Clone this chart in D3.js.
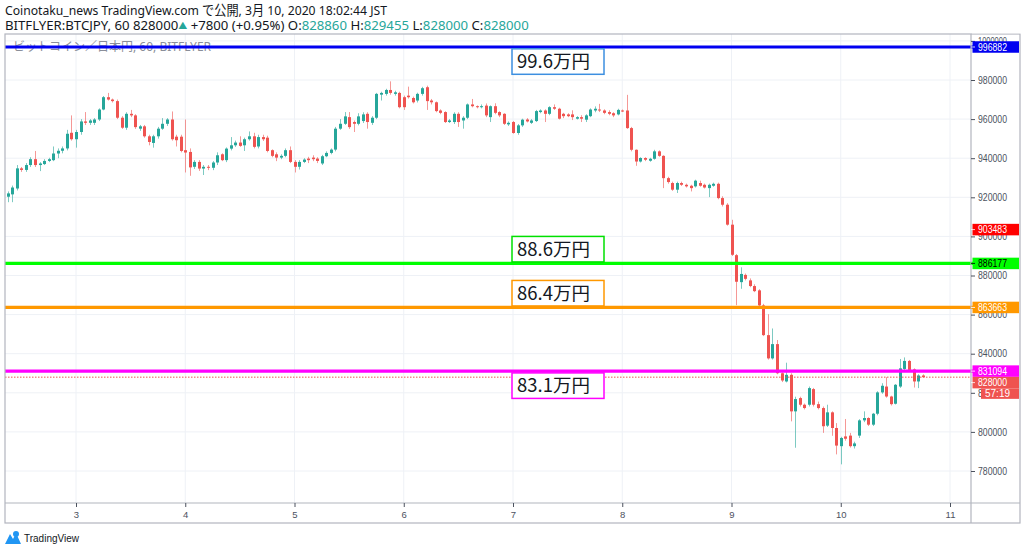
<!DOCTYPE html>
<html><head><meta charset="utf-8">
<script src="https://cdn.jsdelivr.net/npm/d3@7"></script>
<style>body{margin:0;background:#fff;} svg{display:block;}</style>
</head><body>
<script>
// ---------------- DATA (prices in thousands of JPY, hourly candles) ----------------
const firstCandleUTC = Date.UTC(2020, 2, 2, 9); // 2 Mar 09:00 (chart clock)
const opens = [920.3,921.5,924.5,934.8,934,936.5,939.5,936.5,937,938.6,939.0,942.4,943.8,945,953,949.7,953.4,958.8,958.1,958.1,959.8,964.9,971.2,970,969.2,960.7,955.6,962.7,961.9,955.1,956.3,951.2,947.8,951.2,955.1,957.6,959.8,951,951,944.1,943.2,935.6,938.1,934.7,935.6,935.1,937.8,942,939,944.9,946.6,948.0,946.6,949.7,951.2,946,950.8,950.5,944.1,942,940.3,941.2,944.1,938.1,935.6,938.1,939.8,940.3,939.8,937.3,941.0,942.7,944.4,955.1,
957.6,961.0,958.5,957.6,959.0,962.7,958.1,960.7,972.5,972.9,974.9,972.9,973.4,971.2,972.0,970.8,969.5,972.9,976.3,969.5,968.6,964.4,963.6,958.5,958.5,962.7,959.3,960.7,967.5,966.6,966.1,966.9,961.0,966.6,963.6,962.7,957.3,958.5,952.9,956.8,959.8,958.1,959.0,963.6,964.4,962.7,966.1,965.3,962.7,962.4,962.4,960.2,961.0,959.7,961.5,964.4,964.9,964.4,963.6,963.0,962.4,964.4,
964.4,955.4,944.3,938.3,940.1,938.7,939.7,943.5,941.2,929.8,927.3,923.9,927.3,926.4,925.9,925.6,927.3,926.4,924.7,925.9,926.9,919.6,916.2,906.0,890.4,876.6,880.3,877.5,874.6,872.4,864.7,849.5,837.6,844.9,830.0,825.8,829.2,810.5,817.3,813.9,813.9,821.9,814.2,812.2,803.2,810.0,802.0,792.7,797.7,798.1,792.7,798.1,805.9,807.1,803.7,809.3,820.2,823.2,818.1,814.4,823.2,832.2,836.3,832.0,825.8,828.86];
const highs = [923,926,936.5,935.5,937.5,940.5,943.7,938,939.5,940.2,946,945,946,954.5,961.9,954.5,960,963.6,960,960.5,965.5,971.8,973.4,970.5,970,961.5,963.5,964.7,962.5,957,957,952,952,956,960.5,960.5,963.9,952,952,959.8,945,939,939,936.5,936.5,938.5,943,942.5,945.5,950.8,949,951.2,950.5,953.7,953,952,952,951.5,944.5,943,942,945,946,939,939,940,940.7,941.5,940.5,941.7,943.5,945,956,960,
963.6,963.6,959.3,963,963.5,963.5,961.5,973.4,974,975.5,979.3,974.5,974,972,976.6,971.5,973.5,976.5,977.1,970.3,969,965,964,960,963.5,963.5,961.5,968,970.3,967,967.5,968,967,968.1,964,963,958.8,959,957.5,960.2,960.5,960,964.7,965,965,966.6,967.5,965.8,963.2,963,964.5,961.5,962,962.5,965.5,966.5,967.8,965,964.5,963.5,965.3,964.9,
972.4,956,944.5,940.5,940.5,940.2,944.3,944,941.5,930.5,928,928,928,927,926.4,929,928.5,927,927,927.5,927.5,920.5,917,908.5,891,884.2,881,878.5,875.5,873,865.5,860.2,852.9,847,830.5,835.4,830,818,818,814.5,823.2,822.5,815.5,813,813.9,810.5,804.5,797.5,806.6,799.5,795,806.5,810.5,807.5,809.7,820.8,824.9,828,818.5,824.5,837.3,838.1,836.8,832.5,829.5,829.455];
const lows = [917.5,917.5,923.5,933,933,935.5,935.5,933.4,936.5,938,938.5,940,942.5,944,949,945.4,952,957,957,957,959,964.5,969.5,968.5,960,955,954.5,961,955,954,950.5,946.6,945.4,950,954.5,956.5,949,946,943,932.7,931,934.5,933.5,931.4,933.9,933.9,936.5,938.5,938,944,945.8,945.8,943.7,949,945,945,948.8,943,940.5,938.5,939.5,940.5,937.5,932.7,934.2,937.5,937.5,938.5,937.5,936.5,940.5,942,943.5,954.5,
957.0,955.0,953.4,956.8,958,955.1,957,960,969.5,972,972.5,972,965.5,964.7,970.5,968,968.5,972,964.7,967.5,963.5,962.5,958,958,957.5,956,955.1,960,966,965.5,965.5,961,958.5,962.5,961,957,956.5,952.5,952,956,958.3,957.5,958.5,963,958.5,962,964.7,959.8,960.5,961,959.5,959.8,958.5,958.5,961,963.5,963.6,962.5,962,961,961.9,963.6,
955,943.5,936.1,937.8,938.5,938.2,939.2,940.7,924.7,927,923.3,922.2,925.8,925,923,925,925.4,924.5,920.1,925.4,919,915.3,905.5,890,864.8,873.2,877.5,874,871.5,864,849,837,837,829.5,825.5,825.3,805.4,791.9,813,811.5,813,813,811.5,799.5,802.5,798,788.5,783.4,795.5,792,791.5,796.9,805,803,803,808.5,819.5,817.5,813.5,814,822.5,831.5,831,822.7,822.4,828.0];
const closes = [922.0,925,934.8,934,936.5,939.5,936.5,937.3,938.6,939.5,942.4,943.8,945,952.5,949.7,953.4,958.8,958.1,959.3,959.8,964.9,971.2,970.0,969.2,960.7,955.6,962.7,961.9,955.9,956.3,951.2,948.3,951.2,955.1,957.6,959.8,949.7,949.2,943.7,942.9,935.3,938.1,934.7,935.6,935.1,937.8,941.5,939,944.9,946.6,948.0,946.3,949.7,951.2,945.8,950.8,949.7,943.7,941.2,940.3,941.2,944.1,938.1,935.6,938.1,939.3,939.0,939.5,938.6,941.0,942.7,944.4,955.1,957.6,
961.4,955.9,957.6,961.4,962.4,958.5,960.7,972.9,973.4,974.9,973.4,973.7,966.1,966.1,971.2,968.6,972.9,975.8,969.2,968.6,964.1,963.2,958.5,959.3,962.7,958.5,960.7,967.5,966.6,966.1,966.6,961.9,966.6,963.2,961.9,957.6,958.1,952.9,956.8,959.7,958.8,959.3,964.1,964.4,962.7,966.1,965.3,960.2,961.5,961.5,961.0,961.0,960.2,961.9,964.9,965.3,964.4,963.2,962.7,961.9,964.7,964.1,
955.4,944.3,938.3,940.1,939.2,939.7,943.5,941.2,929.8,927.8,923.9,927.3,926.4,925.6,924.7,928.5,925.9,925.0,926.4,926.9,919.6,916.2,906.0,890.6,876.8,880.8,878.3,874.6,872.0,864.7,849.5,837.6,844.9,830.0,826.3,829.2,810.5,816.8,813.9,812.2,822.4,813.9,812.2,802.9,810.0,802.0,793.0,796.9,796.5,792.7,794.1,805.9,807.1,803.7,809.3,820.2,823.6,818.1,814.2,824.1,832.5,836.3,831.7,825.8,828.86,828.0];

const priceTicks = [780000, 800000, 820000, 840000, 860000, 880000, 900000, 920000, 940000, 960000, 980000, 1000000];
const dayTicks = [3, 4, 5, 6, 7, 8, 9, 10, 11];
const levelPrices = [996882, 886177, 863663, 831094];
const levelLabels = ["99.6万円", "88.6万円", "86.4万円", "83.1万円"];
const markerPrices = [996882, 903483, 886177, 863663, 831094, 828000];
const lastPrice = 828000;
const countdown = "57:19";
const headerLine1 = "Coinotaku_news TradingView.com で公開, 3月 10, 2020 18:02:44 JST";
const symbolText = "BITFLYER:BTCJPY, 60 828000";
const changeText = " +7800 (+0.95%) ";
const ohlcNames = ["O:", "H:", "L:", "C:"];
const ohlcValues = ["828860", "829455", "828000", "828000"];
const paneTitle = "ビットコイン／日本円, 60, BITFLYER";

// ---------------- STYLE ----------------
const UP = "#26a69a", DOWN = "#ef5350";
const levelStyle = [
  {line: "#0000f0", box: "#3d8fe0", above: false},
  {line: "#00ff00", box: "#00e000", above: true},
  {line: "#ff9800", box: "#ff9800", above: true},
  {line: "#ff00ff", box: "#ff00ff", above: false}
];
const markerStyle = [
  {fill: "#0000f0", text: "#fff"}, {fill: "#ff0000", text: "#fff"}, {fill: "#00ff00", text: "#000"},
  {fill: "#ff9800", text: "#fff"}, {fill: "#ff00ff", text: "#fff"}, {fill: "#ef5350", text: "#fff"}
];

const W = 1024, H = 552;
const L = 5, R = 971, T = 34, B = 503, AXR = 1020, AXB = 523;

const svg = d3.select("body").append("svg").attr("width", W).attr("height", H)
  .style("font-family", "'Noto Sans','Noto Sans CJK JP',sans-serif");
svg.append("rect").attr("width", W).attr("height", H).attr("fill", "#fff");

const x = d3.scaleUtc().domain([new Date(Date.UTC(2020,2,3)), new Date(Date.UTC(2020,2,11))]).range([76, 950]);
const y = d3.scaleLinear().domain([780000, 980000]).range([471, 80]);

const candles = closes.map((c, i) => ({
  t: new Date(firstCandleUTC + i * 3600e3),
  o: opens[i] * 1000, h: highs[i] * 1000, l: lows[i] * 1000, c: c * 1000
}));

// header
const hdr = svg.append("g").attr("font-size", 13.2).attr("fill", "#131722");
hdr.append("text").attr("x", 5).attr("y", 15).attr("textLength", 382).attr("lengthAdjust", "spacingAndGlyphs").text(headerLine1);
const l2 = hdr.append("text").attr("x", 5).attr("y", 29.5);
l2.append("tspan").text(symbolText);
l2.append("tspan").attr("fill", UP).attr("font-size", 9).attr("dy", -1).text("▲");
l2.append("tspan").attr("dy", 1).text(changeText);
ohlcNames.forEach((n, i) => {
  l2.append("tspan").text((i ? " " : "") + n);
  l2.append("tspan").attr("fill", UP).text(ohlcValues[i]);
});

// clip
svg.append("clipPath").attr("id", "plot").append("rect").attr("x", L).attr("y", T).attr("width", R - L).attr("height", B - T);
const plot = svg.append("g").attr("clip-path", "url(#plot)");

// grid
plot.append("g").selectAll("line").data(priceTicks).join("line")
  .attr("x1", L).attr("x2", R).attr("y1", d => y(d)).attr("y2", d => y(d))
  .attr("stroke", "#eef1f6").attr("stroke-width", 1);
plot.append("g").selectAll("line").data(dayTicks).join("line")
  .attr("x1", d => x(new Date(Date.UTC(2020,2,d)))).attr("x2", d => x(new Date(Date.UTC(2020,2,d))))
  .attr("y1", T).attr("y2", B).attr("stroke", "#eef1f6").attr("stroke-width", 1);

// pane title
plot.append("text").attr("x", 13).attr("y", 51).attr("font-size", 12).attr("fill", "#8a8e99").text(paneTitle);

// candles
const cg = plot.append("g");
cg.selectAll("line").data(candles).join("line")
  .attr("x1", d => Math.round(x(d.t)) + 0.5).attr("x2", d => Math.round(x(d.t)) + 0.5)
  .attr("y1", d => y(d.h)).attr("y2", d => y(d.l))
  .attr("stroke", d => d.c >= d.o ? UP : DOWN).attr("stroke-opacity", 0.6).attr("stroke-width", 1);
cg.selectAll("rect").data(candles).join("rect")
  .attr("x", d => Math.round(x(d.t)) - 1).attr("width", 3)
  .attr("y", d => y(Math.max(d.o, d.c)))
  .attr("height", d => Math.max(1, Math.abs(y(d.o) - y(d.c))))
  .attr("fill", d => d.c >= d.o ? UP : DOWN);

// last price dotted line
plot.append("line").attr("x1", L).attr("x2", R).attr("y1", y(lastPrice)).attr("y2", y(lastPrice))
  .attr("stroke", DOWN).attr("stroke-width", 1).attr("stroke-dasharray", "1.5,1.5");

// level lines + boxes
const boxDate = new Date(Date.UTC(2020,2,7));
levelPrices.forEach((p, i) => {
  const s = levelStyle[i];
  const yy = y(p);
  svg.append("line").attr("x1", L).attr("x2", R + 2).attr("y1", yy).attr("y2", yy)
    .attr("stroke", s.line).attr("stroke-width", 3.2);
  const bx = x(boxDate) - 1, bw = 92, bh = 25.5;
  const by = s.above ? yy - 1.5 - bh : yy + 1.8;
  svg.append("rect").attr("x", bx).attr("y", by).attr("width", bw).attr("height", bh)
    .attr("fill", "#fff").attr("stroke", s.box).attr("stroke-width", 1.5);
  svg.append("text").attr("x", bx + 5).attr("y", by + 19.5).attr("font-size", 18.5)
    .attr("font-family", "'Noto Sans CJK JP',sans-serif").attr("fill", "#131722").text(levelLabels[i]);
});

// frame
svg.append("rect").attr("x", L).attr("y", T).attr("width", AXR - L).attr("height", AXB - T)
  .attr("fill", "none").attr("stroke", "#b2b5be").attr("stroke-width", 1.2);
svg.append("line").attr("x1", R).attr("x2", R).attr("y1", T).attr("y2", AXB).attr("stroke", "#b2b5be").attr("stroke-width", 1.2);
svg.append("line").attr("x1", L).attr("x2", AXR).attr("y1", B).attr("y2", B).attr("stroke", "#b2b5be").attr("stroke-width", 1.2);

// price axis
const yAxis = d3.axisRight(y).tickValues(priceTicks).tickSize(4).tickPadding(3).tickFormat(d3.format("d"));
const ya = svg.append("g").attr("transform", `translate(${R},0)`).call(yAxis);
ya.select(".domain").remove();
ya.selectAll(".tick line").attr("stroke", "#4c525e");
ya.selectAll(".tick text").attr("fill", "#4c525e").attr("font-size", 10)
  .attr("font-family", "'Liberation Sans',sans-serif").attr("textLength", 29).attr("lengthAdjust", "spacingAndGlyphs");
// hide parts beyond frame top
svg.append("rect").attr("x", R + 1).attr("y", 0).attr("width", 60).attr("height", T - 0.6).attr("fill", "#fff");

// time axis
const xAxis = d3.axisBottom(x).tickValues(dayTicks.map(d => new Date(Date.UTC(2020,2,d)))).tickSize(4).tickPadding(4)
  .tickFormat(d3.utcFormat("%-d"));
const xa = svg.append("g").attr("transform", `translate(0,${B})`).call(xAxis);
xa.select(".domain").remove();
xa.selectAll(".tick line").attr("stroke", "#4c525e");
xa.selectAll(".tick text").attr("fill", "#4c525e").attr("font-size", 9.5).attr("font-family", "'Liberation Sans',sans-serif");

// price markers on axis (stacked downward when they would overlap, like the reference)
const MH = 11.5;
let prevBottom = -Infinity;
let lastMarkerBottom = 0;
markerPrices.map((p, i) => ({p, i})).sort((a, b) => y(a.p) - y(b.p)).forEach(({p, i}) => {
  const yy = y(p);
  let top = yy - MH / 2;
  if (top < prevBottom) top = prevBottom;
  prevBottom = top + MH;
  if (p === lastPrice) lastMarkerBottom = top + MH;
  const ms = markerStyle[i];
  svg.append("rect").attr("x", R + 1.5).attr("y", top).attr("width", 46.5).attr("height", MH).attr("fill", ms.fill);
  svg.append("line").attr("x1", R).attr("x2", R + 4).attr("y1", top + MH / 2).attr("y2", top + MH / 2)
    .attr("stroke", ms.text).attr("stroke-opacity", 0.8);
  svg.append("text").attr("x", R + 7).attr("y", top + MH / 2 + 3.6).attr("font-size", 10).attr("fill", ms.text)
    .attr("font-family", "'Liberation Sans',sans-serif").attr("textLength", 29).attr("lengthAdjust", "spacingAndGlyphs").text(d3.format("d")(p));
});
svg.append("rect").attr("x", R + 10).attr("y", lastMarkerBottom).attr("width", 38).attr("height", 10.5).attr("fill", DOWN);
svg.append("text").attr("x", R + 14).attr("y", lastMarkerBottom + 8.4).attr("font-size", 10).attr("fill", "#fff")
  .attr("font-family", "'Liberation Sans',sans-serif").attr("textLength", 25).attr("lengthAdjust", "spacingAndGlyphs").text(countdown);

// TradingView logo
const lg = svg.append("g").attr("transform", "translate(5,530)");
lg.append("path").attr("d", "M0,14 L5,4 L8,9 L11,3 L16,14 Z").attr("fill", "#2196f3");
lg.append("circle").attr("cx", 11).attr("cy", 4).attr("r", 3).attr("fill", "#2196f3");
lg.append("text").attr("x", 19).attr("y", 11.5).attr("font-size", 10.5).attr("fill", "#131722")
  .attr("font-family", "'Liberation Sans',sans-serif").attr("textLength", 55).attr("lengthAdjust", "spacingAndGlyphs").text("TradingView");
</script>
</body></html>
